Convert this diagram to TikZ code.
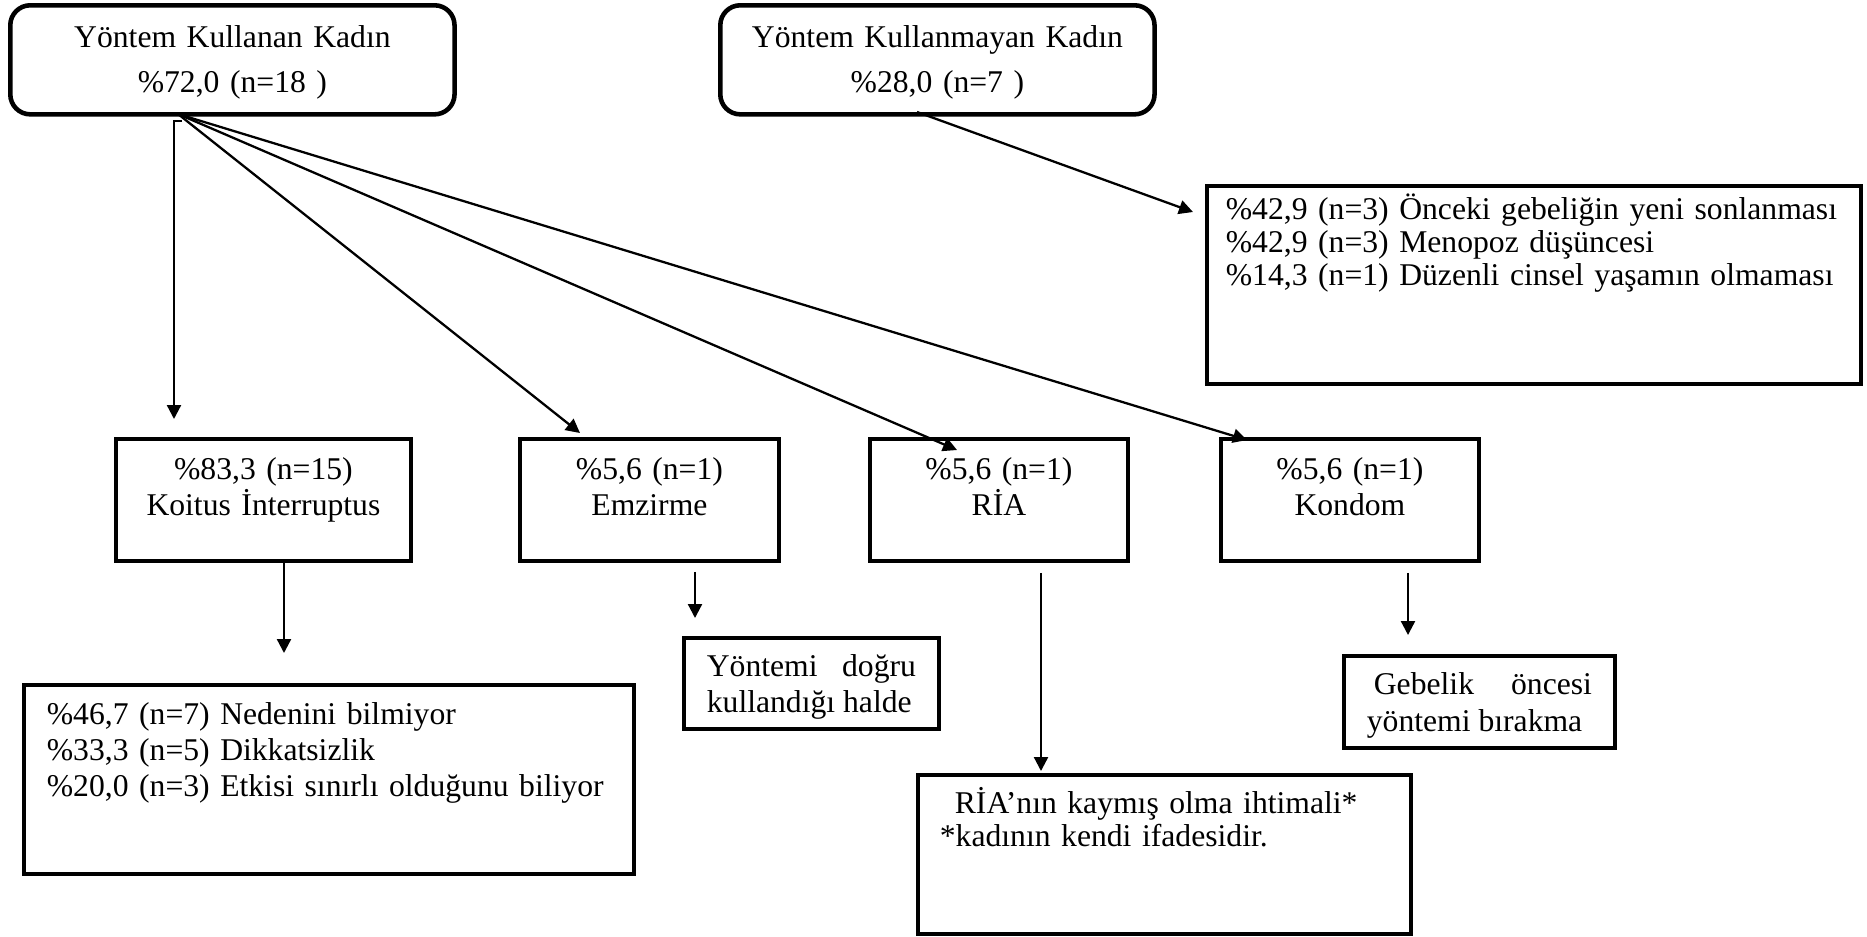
\documentclass[tikz,border=0pt]{standalone}
\usepackage{fontspec}
\setmainfont{Liberation Serif}
\usetikzlibrary{arrows.meta}
\newcommand{\fs}[1]{\fontsize{9}{#1}\selectfont}
\tikzset{
  rbox/.style={draw, line width=1.3pt, rounded corners=2mm, anchor=north west,
    inner xsep=2mm, inner ysep=0pt, align=center, font=\fs{12.8pt},
    text width=#1, text height=4.2mm, text depth=6.7mm},
  sbox/.style={draw, line width=1.05pt, anchor=north west, inner ysep=0pt},
  method/.style={sbox, text width=#1, inner xsep=1.5mm, text height=4.1mm,
    text depth=8.1mm, align=center, font=\fs{10pt}},
  arr/.style={line width=0.65pt, -{Triangle[length=1.4mm,width=1.4mm]}}
}
\begin{document}
\begin{tikzpicture}[x=0.01cm, y=-0.01cm]
\useasboundingbox (0,0) rectangle (1867,936);

% top row
\node[rbox=40.4mm] (users) at (8,3) {Yöntem Kullanan Kadın\\\%72,0 (n=18 )};
\node[rbox=39.4mm] (nonusers) at (718,3) {Yöntem Kullanmayan Kadın\\\%28,0 (n=7 )};
\node[sbox, text width=61.6mm, inner xsep=1.9mm, text height=3.4mm, text depth=16.4mm,
  align=left, font=\fs{9.4pt}] (nonreasons) at (1205,184)
  {\%42,9 (n=3) Önceki gebeliğin yeni sonlanması\\
   \%42,9 (n=3) Menopoz düşüncesi\\
   \%14,3 (n=1) Düzenli cinsel yaşamın olmaması};

% methods
\node[method=26.5mm] (koitus) at (114,437) {\%83,3 (n=15)\\Koitus İnterruptus};
\node[method=22.9mm] (emzirme) at (518,437) {\%5,6 (n=1)\\Emzirme};
\node[method=22.8mm] (ria) at (868,437) {\%5,6 (n=1)\\RİA};
\node[method=22.8mm] (kondom) at (1219,437) {\%5,6 (n=1)\\Kondom};

% reasons
\node[sbox, text width=56.4mm, inner xsep=2.3mm, text height=4.0mm, text depth=14.9mm,
  align=left, font=\fs{10.2pt}] (koitusreasons) at (22,683)
  {\%46,7 (n=7) Nedenini bilmiyor\\
   \%33,3 (n=5) Dikkatsizlik\\
   \%20,0 (n=3) Etkisi sınırlı olduğunu biliyor};
\node[sbox, text width=20.9mm, inner xsep=2.3mm, text height=3.9mm, text depth=5.2mm,
  align=justify, font=\fs{10pt}] (emzreason) at (682,636)
  {Yöntemi doğru\linebreak kullandığı halde};
\node[sbox, text width=44.9mm, inner xsep=2.2mm, text height=3.9mm, text depth=12.0mm,
  align=left, font=\fs{9.4pt}] (riareason) at (916,773)
  {\hspace*{1.5mm}RİA’nın kaymış olma ihtimali*\\{}*kadının kendi ifadesidir.};
\node[sbox, text width=22.5mm, inner xsep=2.3mm, text height=3.9mm, text depth=5.3mm,
  align=justify, font=\fs{10.5pt}] (kondomreason) at (1342,654)
  {\hspace*{0.7mm}Gebelik öncesi\linebreak yöntemi bırakma};

% arrow ends
\coordinate (usersout) at (178,114);
\coordinate (koitusin) at (174,419);
\coordinate (emzirmein) at (580,433);
\coordinate (riain) at (957,450);
\coordinate (kondomin) at (1247,440);
\coordinate (nonusersout) at (917,112);
\coordinate (nonreasonsin) at (1193,212);
\coordinate (koitusreasonsin) at (284,653);
\coordinate (emzreasonin) at (695,618);
\coordinate (riareasonin) at (1041,771);
\coordinate (kondomreasonin) at (1408,635);

\draw[arr] (usersout) ++(4,7) -| (koitusin);
\draw[arr] (usersout) -- (emzirmein);
\draw[arr] (usersout) -- (riain);
\draw[arr] (usersout) -- (kondomin);
\draw[arr] (nonusersout) -- (nonreasonsin);
\draw[arr] (koitus.south -| koitusreasonsin) -- (koitusreasonsin);
\draw[arr] (emzirme.south -| emzreasonin) ++(0,9) -- (emzreasonin);
\draw[arr] (ria.south -| riareasonin) ++(0,10) -- (riareasonin);
\draw[arr] (kondom.south -| kondomreasonin) ++(0,10) -- (kondomreasonin);
\end{tikzpicture}
\end{document}
